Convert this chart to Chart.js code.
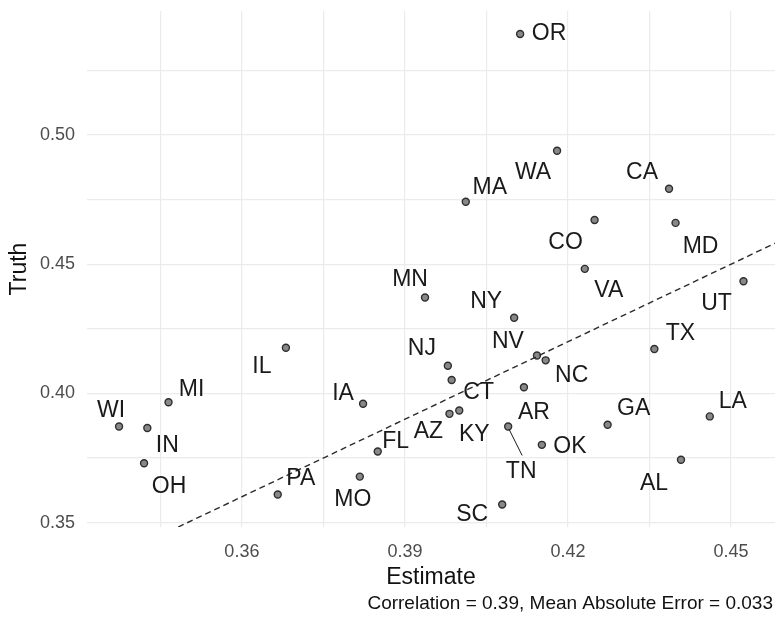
<!DOCTYPE html>
<html>
<head>
<meta charset="utf-8">
<script src="https://cdn.jsdelivr.net/npm/chart.js@4"></script>
<style>
  body { margin: 0; background: #fff; }
  canvas { display: block; }
</style>
</head>
<body>
<canvas id="scatter" width="775" height="622"></canvas>
<script>
// state estimates vs. truth
const states = ['OR','WA','MA','CA','CO','MD','VA','UT','MN','NY','TX','NV','NC','NJ','CT','AR','AZ',
  'KY','TN','OK','GA','LA','AL','SC','IL','MI','WI','IN','OH','IA','FL','PA','MO'];
const estimate = [0.4112,0.4180,0.4012,0.4386,0.4249,0.4398,0.4231,0.4523,0.3937,0.4101,0.4359,0.4143,0.4159,0.3979,0.3986,0.4119,0.3982,
  0.4000,0.4090,0.4152,0.4273,0.4461,0.4408,0.4079,0.3681,0.3465,0.3374,0.3426,0.3420,0.3823,0.3850,0.3666,0.3817];
const truth = [0.5391,0.4939,0.4742,0.4792,0.4671,0.4660,0.4482,0.4434,0.4371,0.4293,0.4172,0.4147,0.4128,0.4107,0.4052,0.4024,0.3921,
  0.3934,0.3872,0.3801,0.3879,0.3911,0.3743,0.3570,0.4177,0.3966,0.3872,0.3866,0.3730,0.3960,0.3775,0.3609,0.3678];

// y = x reference line
const refLine = [0.33, 0.46];

const xTicks = [0.345, 0.36, 0.375, 0.39, 0.405, 0.42, 0.435, 0.45];
const xTickLabels = ['', '0.36', '', '0.39', '', '0.42', '', '0.45'];
const yTicks = [0.35, 0.375, 0.40, 0.425, 0.45, 0.475, 0.50, 0.525];
const yTickLabels = ['0.35', '', '0.40', '', '0.45', '', '0.50', ''];

const caption = 'Correlation = 0.39, Mean Absolute Error = 0.033';

// where each text label sits relative to its point (px), like ggrepel did it
const nudge = {
  OR:[29,-1], WA:[-24,21], MA:[24,-15], CA:[-27,-17], CO:[-29,22], MD:[25,23], VA:[24,21],
  UT:[-27,21], MN:[-15,-19], NY:[-28,-17], TX:[26,-16], NV:[-29,-15], NC:[26,14], NJ:[-26,-18],
  CT:[27,12], AR:[10,24], AZ:[-21,17], KY:[15,23], TN:[13,44], OK:[28,1], GA:[26,-17],
  LA:[23,-16], AL:[-27,23], SC:[-30,9], IL:[-24,18], MI:[23,-14], WI:[-8,-17], IN:[20,17],
  OH:[25,22], IA:[-20,-11], FL:[18,-11], PA:[23,-17], MO:[-7,22]
};

const FONT = '"Liberation Sans", Arial, sans-serif';

const points = states.map((s, i) => ({ x: estimate[i], y: truth[i] }));

const stateLabels = {
  id: 'stateLabels',
  afterDatasetsDraw(chart) {
    const ctx = chart.ctx;
    const meta = chart.getDatasetMeta(1);
    ctx.save();
    ctx.font = '23px ' + FONT;
    ctx.fillStyle = '#1a1a1a';
    ctx.strokeStyle = '#1a1a1a';
    ctx.lineWidth = 1;
    ctx.textAlign = 'center';
    ctx.textBaseline = 'middle';
    meta.data.forEach((pt, i) => {
      const off = nudge[states[i]] || [0, 0];
      const lx = pt.x + off[0], ly = pt.y + off[1];
      // long pushes get a segment back to the point
      if (Math.hypot(off[0], off[1]) > 40) {
        ctx.beginPath();
        ctx.moveTo(pt.x + 1, pt.y + 3);
        ctx.lineTo(lx + 1, ly - 15);
        ctx.stroke();
      }
      ctx.fillText(states[i], lx, ly + 1);
    });
    ctx.restore();
  }
};

const captionPlugin = {
  id: 'caption',
  afterDraw(chart) {
    const ctx = chart.ctx;
    ctx.save();
    ctx.font = '19px ' + FONT;
    ctx.fillStyle = '#111';
    ctx.textAlign = 'right';
    ctx.textBaseline = 'middle';
    ctx.fillText(caption, chart.width - 2, 604);
    ctx.restore();
  }
};

const ctx = document.getElementById('scatter').getContext('2d');
new Chart(ctx, {
  type: 'scatter',
  data: {
    datasets: [
      {
        type: 'line',
        data: refLine.map(v => ({ x: v, y: v })),
        borderColor: '#2b2b2b',
        borderWidth: 1.4,
        borderDash: [6, 4],
        pointRadius: 0,
        fill: false
      },
      {
        data: points,
        backgroundColor: '#888',
        borderColor: '#2e2e2e',
        borderWidth: 1.4,
        pointRadius: 3.5
      }
    ]
  },
  options: {
    responsive: false,
    animation: false,
    layout: { autoPadding: false, padding: { top: 11, right: 0, bottom: 0, left: 0 } },
    plugins: {
      legend: { display: false },
      tooltip: { enabled: false }
    },
    scales: {
      x: {
        type: 'linear',
        min: 0.3315,
        max: 0.4581,
        border: { display: false },
        grid: { color: '#ebebeb', lineWidth: 1.2, drawTicks: false },
        afterBuildTicks: s => { s.ticks = xTicks.map(v => ({ value: v })); },
        afterFit: s => { s.height = 95; s.paddingLeft = 0; s.paddingRight = 0; },
        ticks: {
          autoSkip: false,
          maxRotation: 0,
          padding: 14,
          color: '#4d4d4d',
          font: { family: FONT, size: 18 },
          callback: (v, i) => xTickLabels[i]
        },
        title: {
          display: true,
          text: 'Estimate',
          color: '#111',
          font: { family: FONT, size: 23 },
          padding: { top: 0, bottom: 31 }
        }
      },
      y: {
        type: 'linear',
        min: 0.3483,
        max: 0.548,
        border: { display: false },
        grid: { color: '#ebebeb', lineWidth: 1.2, drawTicks: false },
        afterBuildTicks: s => { s.ticks = yTicks.map(v => ({ value: v })); },
        afterFit: s => { s.width = 87; s.paddingTop = 0; s.paddingBottom = 0; },
        ticks: {
          autoSkip: false,
          padding: 12,
          color: '#4d4d4d',
          font: { family: FONT, size: 18 },
          callback: (v, i) => yTickLabels[i]
        },
        title: {
          display: true,
          text: 'Truth',
          color: '#111',
          font: { family: FONT, size: 23 },
          padding: { top: 6, bottom: 0 }
        }
      }
    }
  },
  plugins: [stateLabels, captionPlugin]
});
</script>
</body>
</html>
